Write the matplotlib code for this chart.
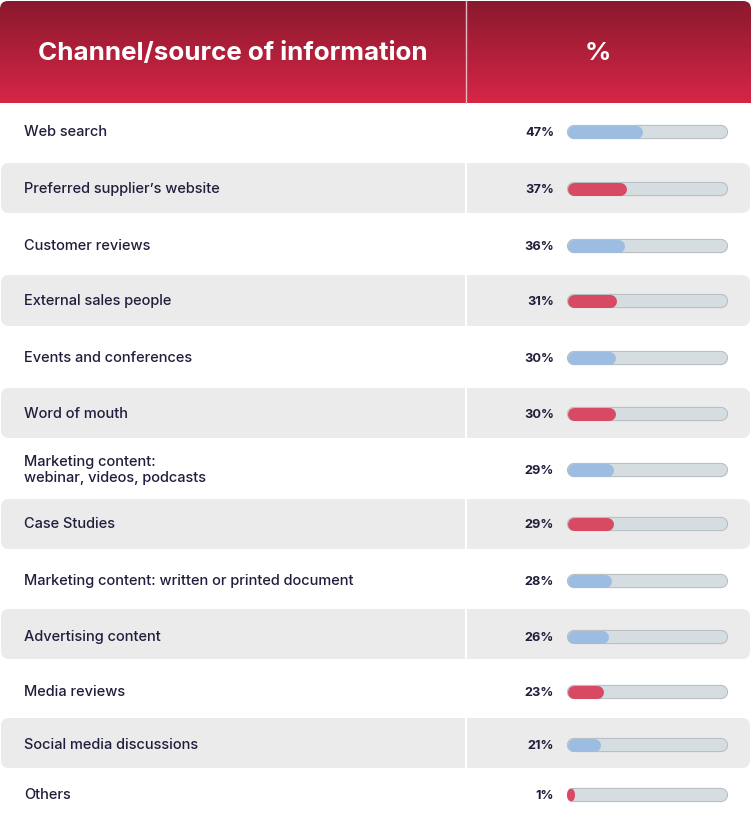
import numpy as np
import matplotlib
matplotlib.use("Agg")
import matplotlib.pyplot as plt
from matplotlib.patches import FancyBboxPatch, Ellipse
from matplotlib.colors import LinearSegmentedColormap

# ---- data ----
channels = [
    "Web search",
    "Preferred supplier\u2019s website",
    "Customer reviews",
    "External sales people",
    "Events and conferences",
    "Word of mouth",
    "Marketing content:\nwebinar, videos, podcasts",
    "Case Studies",
    "Marketing content: written or printed document",
    "Advertising content",
    "Media reviews",
    "Social media discussions",
    "Others",
]
values = [47, 37, 36, 31, 30, 30, 29, 29, 28, 26, 23, 21, 1]
bar_colors = ["#9CBDE1", "#D84A64", "#9CBDE1", "#D84A64", "#9CBDE1", "#D84A64",
              "#9CBDE1", "#D84A64", "#9CBDE1", "#9CBDE1", "#D84A64", "#9CBDE1", "#D84A64"]
header_labels = ["Channel/source of information", "%"]

# ---- layout (pixels) ----
W, H = 753, 829
DPI = 100
row_centers = [132, 189, 246, 301, 358, 414, 470, 524, 581, 637, 692, 745, 795]
shaded = [False, True, False, True, False, True, False, True, False, True, False, True, False]
row_bounds = [None, (164, 214), None, (276, 327), None, (389, 439), None,
              (500, 550), None, (610, 660), None, (719, 769), None]

plt.rcParams['font.family'] = ['Inter', 'DejaVu Sans']
fig = plt.figure(figsize=(W / DPI, H / DPI), dpi=DPI)
ax = fig.add_axes([0, 0, 1, 1])
ax.set_xlim(0, W)
ax.set_ylim(H, 0)
ax.axis('off')

# header with gradient and rounded top corners
hx0, hx1, hy0, hy1 = 0, 751, 2, 104
grad = np.linspace(0, 1, 256).reshape(-1, 1)
cmap = LinearSegmentedColormap.from_list("hdr", ["#8A192D", "#D62646"])
im = ax.imshow(grad, extent=[hx0, hx1, hy1, hy0], cmap=cmap, aspect='auto', zorder=1)
clip = FancyBboxPatch((hx0, hy0), hx1 - hx0, (hy1 - hy0) + 20,
                      boxstyle="round,pad=0,rounding_size=8",
                      transform=ax.transData, facecolor='none', edgecolor='none')
ax.add_patch(clip)
im.set_clip_path(clip)
ax.plot([466, 466], [hy0, hy1], color="#E8B8C2", lw=1, zorder=2)
ax.text(38, 53, header_labels[0], color="white", fontsize=18.7, fontweight='bold',
        ha='left', va='center', zorder=3)
ax.text(598, 53, header_labels[1], color="white", fontsize=18.7, fontweight='bold',
        ha='center', va='center', zorder=3)

# shaded rows
for i, sh in enumerate(shaded):
    if sh:
        y0, y1 = row_bounds[i]
        ax.add_patch(FancyBboxPatch((1, y0), 749, y1 - y0,
                                    boxstyle="round,pad=0,rounding_size=8",
                                    facecolor="#EBEBEB", edgecolor='none', zorder=1))
        ax.plot([466, 466], [y0, y1], color="white", lw=1.5, zorder=2)

text_color = "#1F1F3D"
for i, lab in enumerate(channels):
    ax.text(24, row_centers[i], lab, color=text_color, fontsize=10.5, fontweight='medium',
            ha='left', va='center', linespacing=1.15, zorder=3)
    ax.text(554, row_centers[i] + 1, f"{values[i]}%", color=text_color, fontsize=9.2,
            fontweight='bold', ha='right', va='center', zorder=3)

# bar axes: 0..100 mapped to track in pixels
bx0, bx1 = 567, 727
bax = fig.add_axes([bx0 / W, 0, (bx1 - bx0) / W, 1])
bax.set_xlim(0, 100)
bax.set_ylim(H, 0)
bax.axis('off')
bax.patch.set_alpha(0)

px_per_unit = (bx1 - bx0) / 100.0
bar_h = 13  # px
r_units = (bar_h / 2) / px_per_unit
lw_pt = bar_h * 72 / DPI
for i, v in enumerate(values):
    y = row_centers[i] + 1
    # track
    bax.plot([r_units, 100 - r_units], [y, y], color="#B4BCC1", lw=lw_pt + 0.9,
             solid_capstyle='round', zorder=2, clip_on=False)
    bax.plot([r_units, 100 - r_units], [y, y], color="#D6DDE0", lw=lw_pt - 0.5,
             solid_capstyle='round', zorder=3, clip_on=False)
    if v > 2 * r_units:
        bax.plot([r_units, v - r_units], [y, y], color=bar_colors[i], lw=lw_pt,
                 solid_capstyle='round', zorder=4, clip_on=False)
    else:
        bax.add_patch(Ellipse((v * 2.5, y), v * 5, bar_h, facecolor=bar_colors[i],
                              edgecolor='none', zorder=4, clip_on=False))

fig.savefig("out.png", dpi=DPI)
